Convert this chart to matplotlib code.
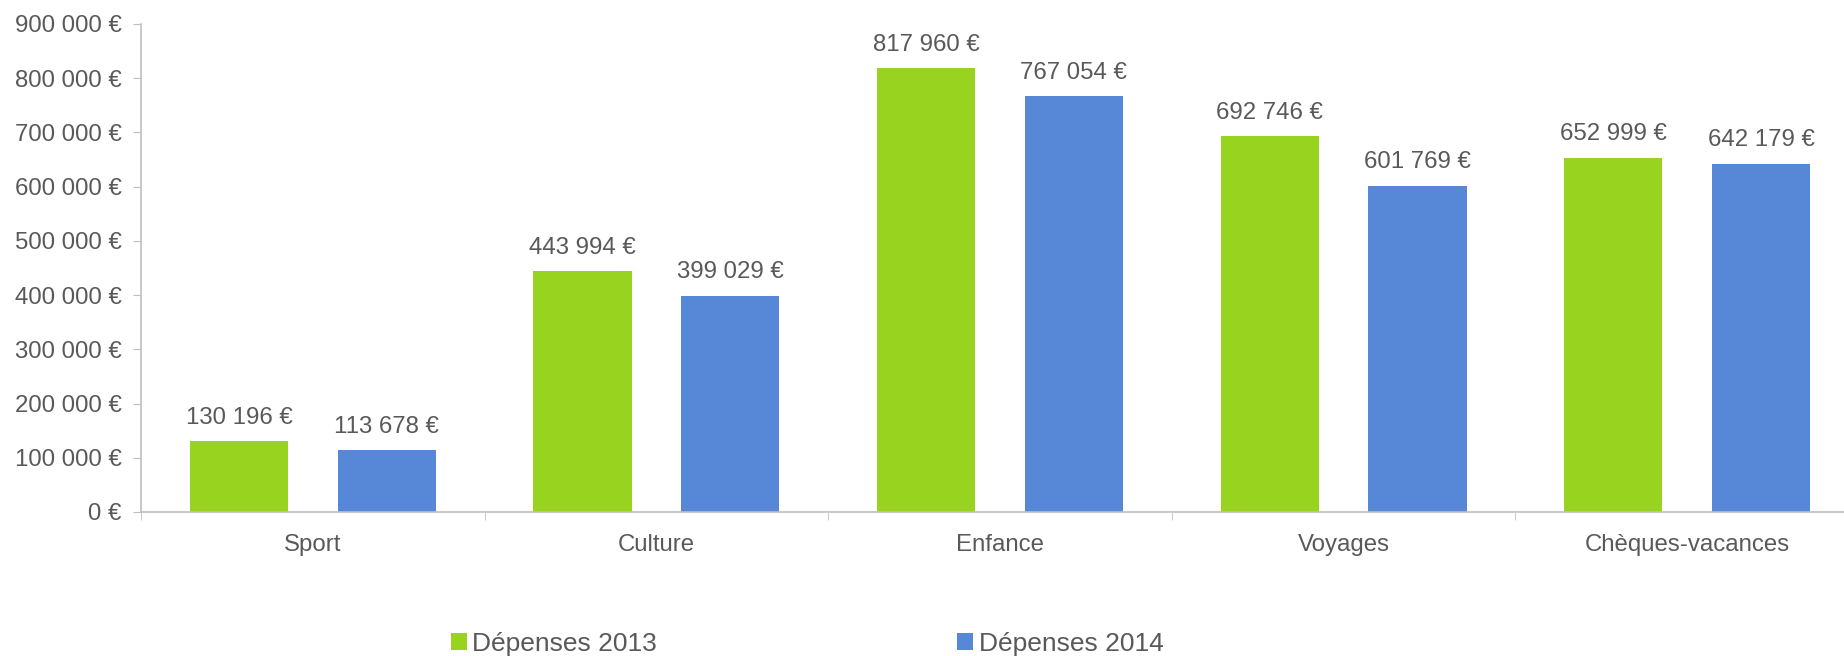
import matplotlib
matplotlib.use("Agg")
import matplotlib.pyplot as plt
from matplotlib.ticker import FuncFormatter, FixedLocator
import numpy as np

categories = ["Sport", "Culture", "Enfance", "Voyages", "Chèques-vacances"]
depenses_2013 = [130196, 443994, 817960, 692746, 652999]
depenses_2014 = [113678, 399029, 767054, 601769, 642179]
series_names = ["Dépenses 2013", "Dépenses 2014"]
y_ticks = [0, 100000, 200000, 300000, 400000, 500000, 600000, 700000, 800000, 900000]

green = "#98D320"
blue = "#5788D7"
grey_text = "#595959"
axis_grey = "#BFBFBF"

plt.rcParams['font.family'] = ['Liberation Sans', 'DejaVu Sans']
FS = 17.3

def euro(v):
    return f"{int(v):,}".replace(",", " ") + " €"

fig = plt.figure(figsize=(18.44, 6.56), dpi=100)
# axes runs past the right edge of the picture, like in the original
ax = fig.add_axes([141 / 1844, 144 / 656, 1718 / 1844, 488 / 656])

x = np.arange(len(categories))
w = 0.286
off = 0.215
b1 = ax.bar(x - off, depenses_2013, width=w, color=green, label=series_names[0])
b2 = ax.bar(x + off, depenses_2014, width=w, color=blue, label=series_names[1])

for bars in (b1, b2):
    for rect in bars:
        h = rect.get_height()
        ax.annotate(euro(h), (rect.get_x() + rect.get_width() / 2, h),
                    xytext=(0, 9), textcoords="offset points",
                    ha="center", va="bottom", fontsize=FS, color=grey_text)

ax.set_xlim(-0.5, len(categories) - 0.5)
ax.set_ylim(0, 900000)
ax.set_yticks(y_ticks)
ax.yaxis.set_major_formatter(FuncFormatter(lambda v, p: euro(v)))
ax.set_xticks(x)
ax.set_xticklabels(categories)
ax.xaxis.set_minor_locator(FixedLocator(np.arange(-0.5, len(categories), 1.0)))

ax.tick_params(axis="x", which="major", length=0, pad=16, labelsize=FS, labelcolor=grey_text)
ax.tick_params(axis="x", which="minor", length=6, color=axis_grey, direction="out")
ax.tick_params(axis="y", length=6, color=axis_grey, pad=8, labelsize=FS, labelcolor=grey_text)

for s in ("top", "right"):
    ax.spines[s].set_visible(False)
for s in ("left", "bottom"):
    ax.spines[s].set_color(axis_grey)
    ax.spines[s].set_linewidth(1.2)

leg = fig.legend(handles=[b1, b2], labels=series_names, loc="center",
                 bbox_to_anchor=(807 / 1844, 12 / 656), ncol=2, frameon=False,
                 fontsize=19, handlelength=0.6, handleheight=0.6, handletextpad=0.2,
                 columnspacing=11.4, borderpad=0)
for t in leg.get_texts():
    t.set_color(grey_text)

fig.savefig("out.png", dpi=100)
